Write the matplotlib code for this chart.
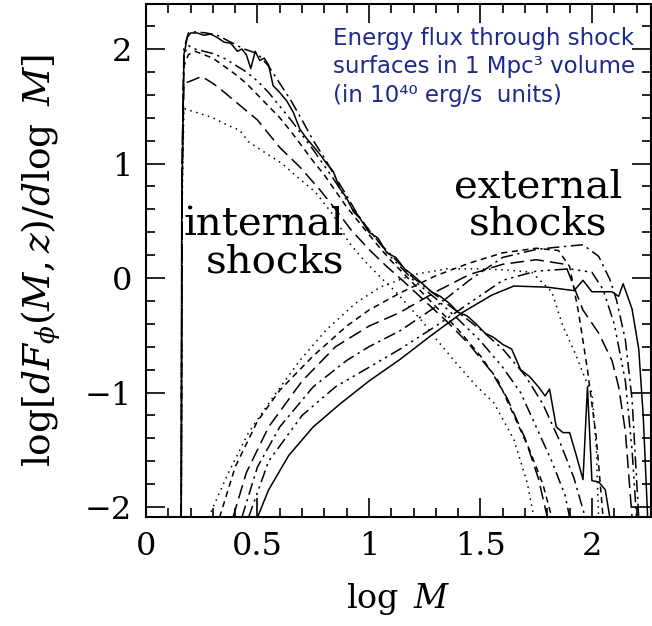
import numpy as np
import matplotlib
matplotlib.use("Agg")
from matplotlib import pyplot as plt
from matplotlib.ticker import MultipleLocator

plt.rcParams['font.family'] = ['DejaVu Serif']
plt.rcParams['mathtext.fontset'] = 'dejavuserif'

# internal shocks (log M, log dF/dlogM)
internal_solid = [(0.158, -2.09), (0.160, 0.5), (0.170, 1.95), (0.185, 2.10), (0.20, 2.14), (0.23, 2.14),
                  (0.26, 2.12), (0.29, 2.13), (0.32, 2.10), (0.35, 2.06), (0.38, 2.05), (0.41, 1.98),
                  (0.43, 2.00), (0.45, 1.95), (0.47, 1.83), (0.49, 1.98), (0.51, 1.90), (0.53, 1.92),
                  (0.55, 1.86), (0.57, 1.68), (0.60, 1.62), (0.63, 1.55), (0.66, 1.45), (0.69, 1.30),
                  (0.72, 1.22), (0.75, 1.15), (0.78, 1.08), (0.81, 1.00), (0.84, 0.93), (0.87, 0.78),
                  (0.90, 0.70), (0.93, 0.58), (0.96, 0.52), (1.00, 0.40), (1.04, 0.35), (1.08, 0.22),
                  (1.12, 0.18), (1.16, 0.08), (1.20, 0.02), (1.24, -0.05), (1.28, -0.12), (1.32, -0.16),
                  (1.36, -0.22), (1.40, -0.30), (1.44, -0.33), (1.48, -0.40), (1.52, -0.48), (1.56, -0.52),
                  (1.60, -0.58), (1.64, -0.62), (1.68, -0.80), (1.72, -0.86), (1.76, -0.95), (1.79, -1.03),
                  (1.81, -0.97), (1.84, -1.30), (1.87, -1.35), (1.90, -1.35), (1.93, -1.55), (1.96, -1.76),
                  (1.98, -0.95), (2.00, -1.77), (2.03, -1.78), (2.06, -1.85), (2.08, -2.09)]
internal_dashdot = [(0.158, -2.09), (0.162, 1.0), (0.17, 2.00), (0.19, 2.14), (0.22, 2.15), (0.27, 2.14),
                    (0.32, 2.12), (0.38, 2.06), (0.44, 2.00), (0.50, 1.96), (0.55, 1.85), (0.60, 1.70),
                    (0.65, 1.55), (0.70, 1.38), (0.75, 1.20), (0.80, 1.05), (0.85, 0.88), (0.90, 0.72),
                    (0.95, 0.55), (1.00, 0.42), (1.05, 0.30), (1.10, 0.20), (1.15, 0.10), (1.20, 0.00),
                    (1.30, -0.15), (1.40, -0.30), (1.50, -0.45), (1.60, -0.62), (1.70, -0.85), (1.78, -1.10),
                    (1.85, -1.40), (1.92, -1.75), (1.97, -2.09)]
internal_dash3dot = [(0.158, -2.09), (0.162, 1.0), (0.17, 1.95), (0.19, 2.03), (0.22, 2.00), (0.26, 1.98),
                     (0.30, 1.96), (0.35, 1.92), (0.40, 1.86), (0.45, 1.80), (0.50, 1.72), (0.55, 1.62),
                     (0.60, 1.50), (0.65, 1.38), (0.70, 1.25), (0.75, 1.12), (0.80, 0.98), (0.85, 0.84),
                     (0.90, 0.68), (0.95, 0.55), (1.00, 0.42), (1.05, 0.30), (1.10, 0.18), (1.15, 0.08),
                     (1.20, -0.02), (1.30, -0.18), (1.40, -0.36), (1.50, -0.55), (1.60, -0.78), (1.68, -1.00),
                     (1.75, -1.30), (1.82, -1.60), (1.88, -1.90), (1.90, -2.09)]
internal_shortdash = [(0.158, -2.09), (0.162, 1.0), (0.17, 1.85), (0.19, 1.95), (0.22, 1.98), (0.26, 1.95),
                      (0.30, 1.92), (0.35, 1.85), (0.40, 1.78), (0.45, 1.70), (0.50, 1.60), (0.55, 1.50),
                      (0.60, 1.40), (0.65, 1.28), (0.70, 1.15), (0.75, 1.02), (0.80, 0.90), (0.85, 0.76),
                      (0.90, 0.62), (0.95, 0.50), (1.00, 0.38), (1.05, 0.26), (1.10, 0.15), (1.20, -0.05),
                      (1.30, -0.25), (1.40, -0.45), (1.50, -0.68), (1.58, -0.90), (1.65, -1.20), (1.72, -1.50),
                      (1.78, -1.80), (1.82, -2.09)]
internal_longdash = [(0.158, -2.09), (0.162, 0.8), (0.17, 1.70), (0.20, 1.72), (0.25, 1.76), (0.30, 1.70),
                     (0.34, 1.64), (0.42, 1.51), (0.50, 1.38), (0.55, 1.26), (0.60, 1.14), (0.69, 0.97),
                     (0.78, 0.77), (0.85, 0.60), (0.92, 0.42), (1.00, 0.25), (1.08, 0.10), (1.15, -0.02),
                     (1.25, -0.20), (1.35, -0.38), (1.45, -0.58), (1.55, -0.82), (1.62, -1.05), (1.70, -1.40),
                     (1.76, -1.75), (1.80, -2.09)]
internal_dotted = [(0.158, -2.09), (0.162, 0.6), (0.17, 1.48), (0.22, 1.45), (0.30, 1.40), (0.36, 1.34),
                   (0.42, 1.29), (0.46, 1.19), (0.53, 1.10), (0.61, 1.00), (0.68, 0.88), (0.76, 0.75),
                   (0.84, 0.55), (0.91, 0.31), (0.98, 0.15), (1.05, 0.01), (1.12, -0.12), (1.18, -0.25),
                   (1.24, -0.38), (1.30, -0.53), (1.39, -0.74), (1.48, -0.94), (1.56, -1.09), (1.65, -1.41),
                   (1.71, -1.79), (1.74, -2.09)]

# external shocks
external_dotted = [(0.28, -2.09), (0.37, -1.70), (0.46, -1.35), (0.57, -1.04), (0.69, -0.72), (0.81, -0.45),
                   (0.94, -0.22), (1.05, -0.08), (1.20, 0.03), (1.35, 0.08), (1.50, 0.08), (1.62, 0.07),
                   (1.73, 0.05), (1.82, -0.12), (1.87, -0.42), (1.93, -0.68), (1.97, -0.88), (2.00, -1.00),
                   (2.02, -1.50), (2.03, -2.09)]
external_shortdash = [(0.33, -2.09), (0.40, -1.65), (0.50, -1.25), (0.60, -0.98), (0.75, -0.68), (0.90, -0.42),
                      (1.00, -0.28), (1.14, -0.13), (1.30, 0.02), (1.45, 0.13), (1.60, 0.22), (1.75, 0.26),
                      (1.85, 0.24), (1.90, 0.10), (1.94, -0.30), (1.98, -0.80), (2.02, -1.40), (2.05, -2.09)]
external_longdash = [(0.39, -2.09), (0.45, -1.70), (0.55, -1.30), (0.70, -0.90), (0.85, -0.60), (1.00, -0.42),
                     (1.14, -0.30), (1.30, -0.12), (1.45, 0.03), (1.60, 0.12), (1.75, 0.16), (1.88, 0.12),
                     (1.96, -0.28), (2.03, -0.48), (2.09, -0.72), (2.12, -0.95), (2.15, -1.34), (2.18, -2.09)]
external_dashdot = [(0.43, -2.09), (0.50, -1.65), (0.60, -1.30), (0.75, -0.95), (0.90, -0.72), (1.00, -0.60),
                    (1.14, -0.46), (1.30, -0.25), (1.45, -0.02), (1.60, 0.18), (1.75, 0.25), (1.90, 0.28),
                    (1.96, 0.29), (2.03, 0.19), (2.08, -0.01), (2.11, -0.19), (2.15, -0.54), (2.18, -1.06),
                    (2.21, -2.09)]
external_dash3dot = [(0.46, -2.09), (0.55, -1.60), (0.70, -1.20), (0.85, -0.95), (1.00, -0.78), (1.14, -0.62),
                     (1.30, -0.42), (1.45, -0.22), (1.60, -0.02), (1.75, 0.06), (1.90, 0.08), (2.00, 0.05),
                     (2.05, -0.10), (2.10, -0.40), (2.15, -0.90), (2.18, -1.50), (2.20, -2.09)]
external_solid = [(0.50, -2.09), (0.55, -1.85), (0.64, -1.55), (0.75, -1.30), (0.87, -1.10), (1.00, -0.90),
                  (1.14, -0.71), (1.28, -0.50), (1.42, -0.30), (1.55, -0.15), (1.65, -0.07), (1.80, -0.08),
                  (1.92, -0.11), (1.96, -0.02), (2.00, -0.12), (2.09, -0.12), (2.12, -0.16), (2.14, -0.05),
                  (2.18, -0.27), (2.21, -0.62), (2.23, -1.20), (2.25, -2.09)]

x_ticks = [0, 0.5, 1, 1.5, 2]
x_ticklabels = ['0', '0.5', '1', '1.5', '2']
y_ticks = [-2, -1, 0, 1, 2]
y_ticklabels = ['\u22122', '\u22121', '0', '1', '2']

styles = {
    'solid': '-',
    'dotted': (0, (1, 3)),
    'shortdash': (0, (4, 3)),
    'longdash': (0, (9, 4)),
    'dashdot': (0, (8, 3, 1.5, 3)),
    'dash3dot': (0, (8, 3, 1.5, 3, 1.5, 3, 1.5, 3)),
}

curves = [
    (internal_solid, 'solid'), (internal_dashdot, 'dashdot'), (internal_dash3dot, 'dash3dot'),
    (internal_shortdash, 'shortdash'), (internal_longdash, 'longdash'), (internal_dotted, 'dotted'),
    (external_dotted, 'dotted'), (external_shortdash, 'shortdash'), (external_longdash, 'longdash'),
    (external_dashdot, 'dashdot'), (external_dash3dot, 'dash3dot'), (external_solid, 'solid'),
]

fig = plt.figure(figsize=(6.52, 6.26), dpi=100)
ax = fig.add_axes([146/652, 109/626, 505/652, 513/626])

for pts, st in curves:
    pts = np.array(pts)
    ax.plot(pts[:, 0], pts[:, 1], color='black', lw=1.1, ls=styles[st])

ax.set_xlim(0, 2.265)
ax.set_ylim(-2.087, 2.393)
ax.set_xticks(x_ticks)
ax.set_xticklabels(x_ticklabels)
ax.set_yticks(y_ticks)
ax.set_yticklabels(y_ticklabels)
ax.xaxis.set_minor_locator(MultipleLocator(0.1))
ax.yaxis.set_minor_locator(MultipleLocator(0.2))
ax.tick_params(which='both', direction='in', top=True, right=True, width=1.2, labelsize=23, pad=10)
ax.tick_params(which='major', length=14)
ax.tick_params(which='minor', length=6.5)
for s in ax.spines.values():
    s.set_linewidth(1.5)

ax.set_xlabel(r'$\log\ M$', fontsize=24, labelpad=14)
ax.set_ylabel(r'$\log[dF_\phi(M,z)/d\log\ M]$', fontsize=27, labelpad=16)

ax.text(0.89, 0.37, 'internal', fontsize=29, ha='right', va='baseline')
ax.text(0.89, 0.05, 'shocks', fontsize=29, ha='right', va='baseline')
ax.text(1.76, 0.70, 'external', fontsize=29, ha='center', va='baseline')
ax.text(1.76, 0.38, 'shocks', fontsize=29, ha='center', va='baseline')

blue = '#1c2a8c'
fig.text(333/652, 1 - 45/626, 'Energy flux through shock', color=blue, fontsize=16.5, family='DejaVu Sans')
fig.text(333/652, 1 - 73/626, 'surfaces in 1 Mpc\u00b3 volume', color=blue, fontsize=16.5, family='DejaVu Sans')
fig.text(333/652, 1 - 102/626, '(in 10\u2074\u2070 erg/s  units)', color=blue, fontsize=16.5, family='DejaVu Sans')

fig.savefig('out.png', dpi=100)
